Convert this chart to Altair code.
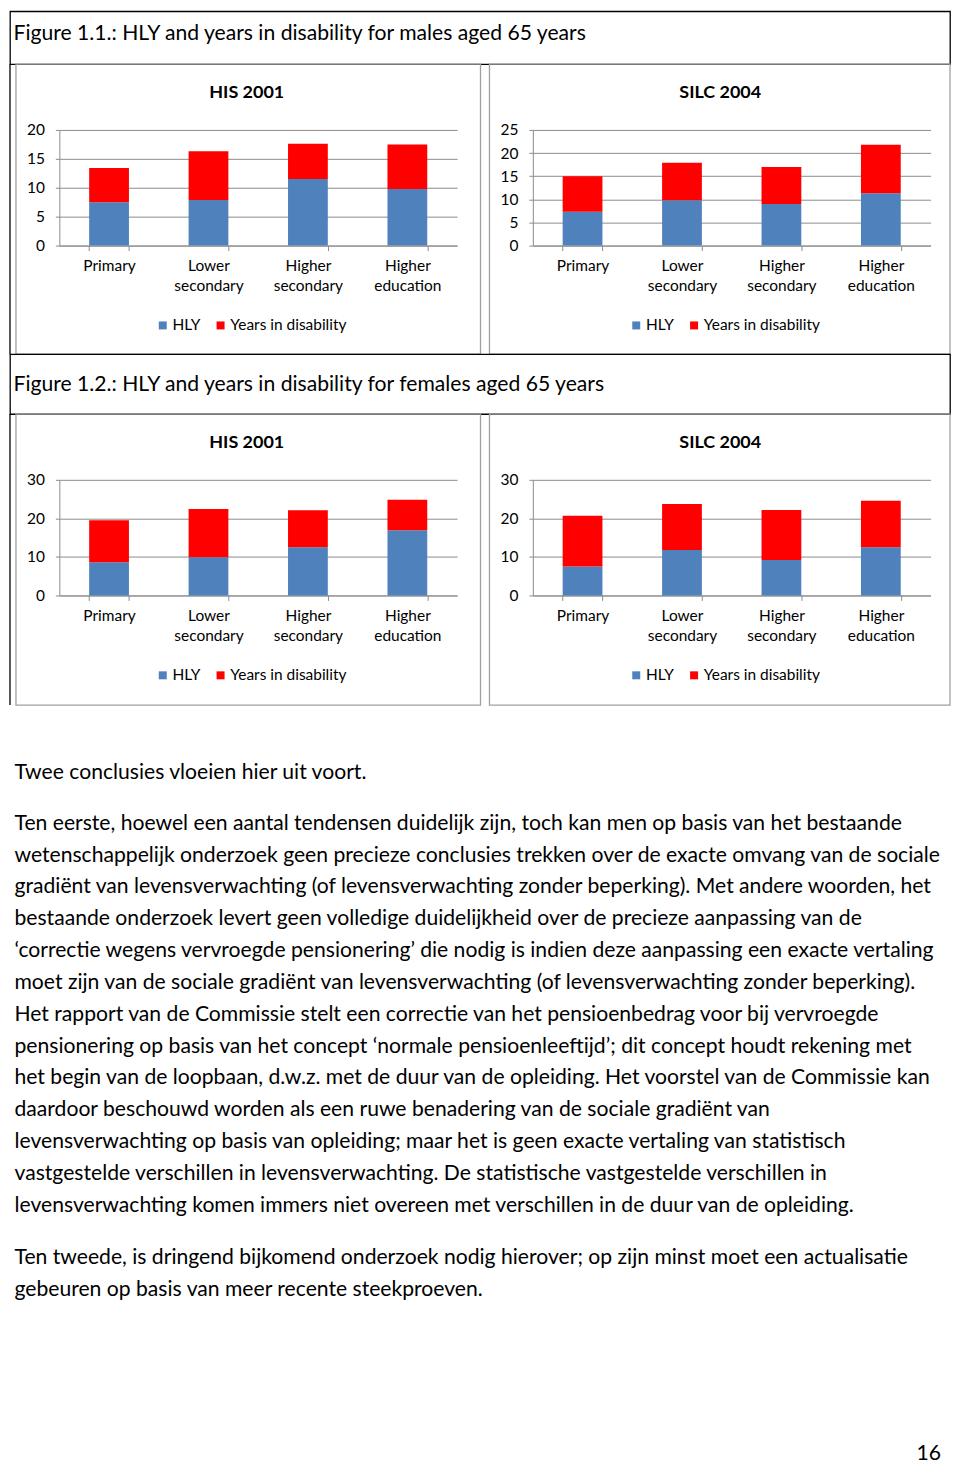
import altair as alt
import pandas as pd

# ---------------- data ----------------
CATEGORIES = ["Primary", "Lower secondary", "Higher secondary", "Higher education"]
SERIES = ["HLY", "Years in disability"]
SERIES_COLORS = ["#4F81BD", "#FF0000"]

MALE_HIS_HLY = [7.5, 7.9, 11.5, 9.8]
MALE_HIS_DIS = [5.9, 8.4, 6.1, 7.7]
MALE_SILC_HLY = [7.3, 9.8, 9.0, 11.3]
MALE_SILC_DIS = [7.7, 8.1, 8.0, 10.5]
FEMALE_HIS_HLY = [8.6, 9.9, 12.5, 16.9]
FEMALE_HIS_DIS = [10.9, 12.5, 9.6, 7.9]
FEMALE_SILC_HLY = [7.5, 11.8, 9.2, 12.5]
FEMALE_SILC_DIS = [13.2, 11.9, 13.0, 12.1]

TICKS_MALE_HIS = [0, 5, 10, 15, 20]
TICKS_MALE_SILC = [0, 5, 10, 15, 20, 25]
TICKS_FEMALE = [0, 10, 20, 30]

PANEL_TITLES = ["HIS 2001", "SILC 2004"]
FIG1_TITLE = "Figure 1.1.: HLY and years in disability for males aged 65 years"
FIG2_TITLE = "Figure 1.2.: HLY and years in disability for females aged 65 years"

PARA1 = ["Twee conclusies vloeien hier uit voort."]
PARA2 = [
    "Ten eerste, hoewel een aantal tendensen duidelijk zijn, toch kan men op basis van het bestaande",
    "wetenschappelijk onderzoek geen precieze conclusies trekken over de exacte omvang van de sociale",
    "gradiënt van levensverwachting (of levensverwachting zonder beperking). Met andere woorden, het",
    "bestaande onderzoek levert geen volledige duidelijkheid over de precieze aanpassing van de",
    "‘correctie wegens vervroegde pensionering’ die nodig is indien deze aanpassing een exacte vertaling",
    "moet zijn van de sociale gradiënt van levensverwachting (of levensverwachting zonder beperking).",
    "Het rapport van de Commissie stelt een correctie van het pensioenbedrag voor bij vervroegde",
    "pensionering op basis van het concept ‘normale pensioenleeftijd’; dit concept houdt rekening met",
    "het begin van de loopbaan, d.w.z. met de duur van de opleiding. Het voorstel van de Commissie kan",
    "daardoor beschouwd worden als een ruwe benadering van de sociale gradiënt van",
    "levensverwachting op basis van opleiding; maar het is geen exacte vertaling van statistisch",
    "vastgestelde verschillen in levensverwachting. De statistische vastgestelde verschillen in",
    "levensverwachting komen immers niet overeen met verschillen in de duur van de opleiding.",
]
PARA3 = [
    "Ten tweede, is dringend bijkomend onderzoek nodig hierover; op zijn minst moet een actualisatie",
    "gebeuren op basis van meer recente steekproeven.",
]
PAGE_NUMBER = "16"

# ---------------- style ----------------
FONT = "Lato"
BODY_FS = 21.2
LABEL_FS = 15.5
GRID_GRAY = "#8C8C8C"
FRAME_GRAY = "#A0A0A0"
TOTAL_W = 943
LEFT_X0 = 6      # left panel frame
RIGHT_X0 = 481   # right panel frame
LEFT_W = 466
RIGHT_W = 462
PLOT_L, PLOT_R = 43.5, 442.5   # plot area inside a panel (x)
PLOT_B, PLOT_T = 182, 66       # plot area inside a panel (y)


def panel(title, hly, dis, ticks, x0, h):
    df = pd.DataFrame({
        "category": CATEGORIES * 2,
        "series": [SERIES[0]] * len(CATEGORIES) + [SERIES[1]] * len(CATEGORIES),
        "value": hly + dis,
        "rank": [0] * len(CATEGORIES) + [1] * len(CATEGORIES),
    })
    yscale = alt.Scale(domain=[ticks[0], ticks[-1]], range=[PLOT_B, PLOT_T], nice=False, zero=True)
    xscale = alt.Scale(domain=CATEGORIES, range=[x0 + PLOT_L, x0 + PLOT_R],
                       paddingInner=0.6, paddingOuter=0.3)
    bars = alt.Chart(df).mark_bar().encode(
        x=alt.X("category:N", sort=CATEGORIES, scale=xscale,
                axis=alt.Axis(title=None, orient="bottom", offset=PLOT_B - h,
                              labelExpr="split(datum.label, ' ')", labelAngle=0,
                              labelFont=FONT, labelFontSize=LABEL_FS, labelColor="#000",
                              labelLineHeight=20, labelPadding=8, labelBaseline="top",
                              tickBand="extent", tickSize=5, tickColor=GRID_GRAY,
                              domainColor=GRID_GRAY, labelOverlap=False, grid=False)),
        y=alt.Y("value:Q", stack="zero", scale=yscale,
                axis=alt.Axis(title=None, orient="left", offset=-(x0 + PLOT_L), values=ticks,
                              tickSize=4, labelPadding=11, labelFont=FONT,
                              labelFontSize=LABEL_FS, labelColor="#000", grid=True,
                              gridColor=GRID_GRAY, domainColor=GRID_GRAY,
                              tickColor=GRID_GRAY)),
        color=alt.Color("series:N", scale=alt.Scale(domain=SERIES, range=SERIES_COLORS),
                        legend=alt.Legend(title=None, orient="none", legendX=x0 + 139.5,
                                          legendY=254, direction="horizontal",
                                          symbolType="square", symbolSize=64,
                                          symbolStrokeWidth=0, labelFont=FONT,
                                          labelFontSize=LABEL_FS, labelColor="#000",
                                          labelOffset=2, columnPadding=12, padding=0)),
        order=alt.Order("rank:Q"),
    )
    title_mark = alt.Chart(pd.DataFrame({"t": [title]})).mark_text(
        font=FONT, fontSize=18, fontWeight="bold", align="center", baseline="middle",
        color="#000"
    ).encode(x=alt.value(x0 + 231.5), y=alt.value(29), text="t:N")
    return alt.layer(bars, title_mark)


def frame(x0, w, h):
    return alt.Chart(pd.DataFrame({"a": [0]})).mark_rect(
        fill="transparent", stroke=FRAME_GRAY, strokeWidth=1.3
    ).encode(x=alt.value(x0), x2=alt.value(x0 + w), y=alt.value(0), y2=alt.value(h))


def left_border(h):
    return alt.Chart(pd.DataFrame({"a": [0]})).mark_rule(
        color="#000", strokeWidth=1.3
    ).encode(x=alt.value(0), y=alt.value(0), y2=alt.value(h))


def row(his, silc, ticks_his, ticks_silc, h):
    left = panel(PANEL_TITLES[0], his[0], his[1], ticks_his, LEFT_X0, h)
    right = panel(PANEL_TITLES[1], silc[0], silc[1], ticks_silc, RIGHT_X0, h)
    return alt.layer(
        frame(LEFT_X0, LEFT_W, h), frame(RIGHT_X0, RIGHT_W, h), left_border(h), left, right
    ).resolve_scale(x="independent", y="independent", color="independent").properties(
        width=TOTAL_W, height=h)


def header(text, h, ybase):
    return alt.Chart(pd.DataFrame({"t": [text]})).mark_text(
        font=FONT, fontSize=BODY_FS, align="left", baseline="alphabetic", color="#000"
    ).encode(x=alt.value(3.5), y=alt.value(ybase), text="t:N").properties(
        width=TOTAL_W, height=h, view=alt.ViewBackground(stroke="#000", strokeWidth=1.3)
    )


def para(lines, y):
    return alt.Chart(pd.DataFrame({"a": [0]})).mark_text(
        font=FONT, fontSize=BODY_FS, align="left", baseline="alphabetic",
        lineHeight=31.95, color="#000", limit=936
    ).encode(x=alt.value(4.5), y=alt.value(y), text=alt.value(lines))


page_num = alt.Chart(pd.DataFrame({"t": [PAGE_NUMBER]})).mark_text(
    font=FONT, fontSize=BODY_FS, align="right", baseline="alphabetic", color="#000"
).encode(x=alt.value(934), y=alt.value(757), text="t:N")

text_block = alt.layer(para(PARA1, 74), para(PARA2, 125), para(PARA3, 561), page_num).properties(
    width=TOTAL_W, height=762)

row1 = row((MALE_HIS_HLY, MALE_HIS_DIS), (MALE_SILC_HLY, MALE_SILC_DIS),
           TICKS_MALE_HIS, TICKS_MALE_SILC, 291)
row2 = row((FEMALE_HIS_HLY, FEMALE_HIS_DIS), (FEMALE_SILC_HLY, FEMALE_SILC_DIS),
           TICKS_FEMALE, TICKS_FEMALE, 292)

chart = alt.vconcat(
    header(FIG1_TITLE, 53, 29), row1, header(FIG2_TITLE, 60, 37), row2, text_block,
    spacing=0, bounds="flush"
).resolve_scale(color="independent").resolve_legend(color="independent").properties(
    padding=0
).configure(font=FONT).configure_view(stroke="transparent")

chart.save("out.html", embed_options={"renderer": "svg", "actions": False})
